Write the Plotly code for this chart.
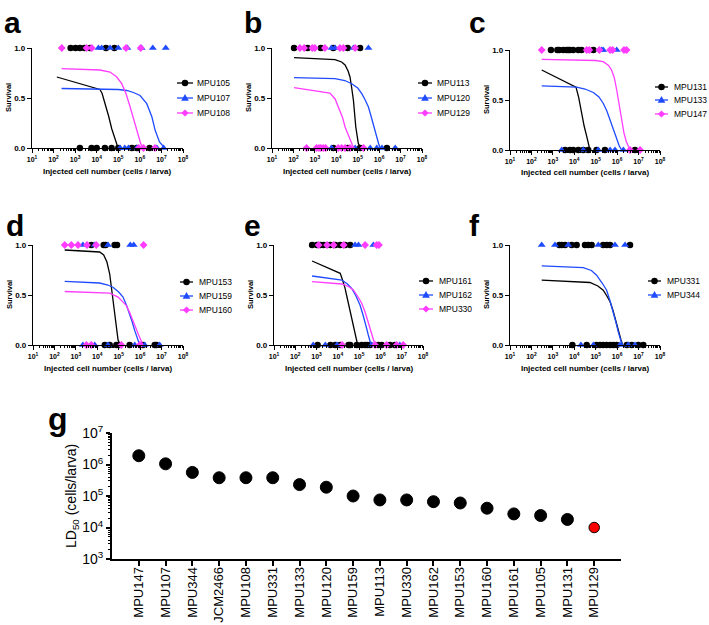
import plotly.graph_objects as go

W, H = 709, 625
FONT = "Liberation Sans, Arial, Helvetica, sans-serif"
BLACK = "#000000"
BLUE = "#1F4BFF"
MAGENTA = "#FF3CFF"

# ---------------- DATA (log10 injected cells / larva) ----------------
# Panel a
MPU105_alive = [2.79, 3.02, 3.22, 3.43, 3.69, 4.43, 4.82]
MPU105_dead = [3.22, 3.76, 4.00, 4.38, 4.69, 5.00, 5.63, 5.86, 6.45]
MPU105_fit_x = [2.15, 4.15, 4.25, 4.40, 4.55, 4.70, 4.85, 4.95, 5.05]
MPU105_fit_y = [0.71, 0.585, 0.545, 0.44, 0.32, 0.19, 0.075, 0.025, 0.0]

MPU107_alive = [4.08, 4.23, 4.62, 5.00, 5.42, 6.08, 6.60, 7.20]
MPU107_dead = [5.08, 5.30, 5.47, 5.86, 6.79, 7.10]
MPU107_fit_x = [2.37, 4.50, 5.00, 5.39, 5.70, 6.01, 6.32, 6.56, 6.71, 6.91, 7.10, 7.15]
MPU107_fit_y = [0.595, 0.59, 0.585, 0.575, 0.555, 0.525, 0.443, 0.31, 0.177, 0.06, 0.01, 0.0]

MPU108_alive = [2.38, 3.53, 3.77, 5.36, 6.04]
MPU108_dead = [5.95, 6.17, 6.70]
MPU108_fit_x = [2.37, 4.15, 4.62, 4.93, 5.16, 5.36, 5.55, 5.73, 5.89, 6.04, 6.17]
MPU108_fit_y = [0.793, 0.78, 0.76, 0.71, 0.643, 0.543, 0.41, 0.277, 0.143, 0.043, 0.0]

# Panel b
MPU113_alive = [2.03, 2.66, 3.28, 3.86, 4.53, 5.11]
MPU113_dead = [3.86, 4.53, 5.11, 6.36]
MPU113_fit_x = [2.03, 3.94, 4.25, 4.41, 4.55, 4.64, 4.72, 4.80, 4.91, 5.03, 5.16]
MPU113_fit_y = [0.903, 0.883, 0.86, 0.83, 0.77, 0.71, 0.60, 0.477, 0.21, 0.043, 0.0]

MPU120_alive = [3.78, 3.94, 4.80, 5.50]
MPU120_dead = [3.78, 4.88, 5.58, 5.89, 6.13, 6.75]
MPU120_fit_x = [2.03, 3.94, 4.40, 4.72, 5.00, 5.19, 5.35, 5.50, 5.62, 5.73, 5.89, 5.98, 6.05]
MPU120_fit_y = [0.703, 0.693, 0.675, 0.643, 0.60, 0.543, 0.48, 0.41, 0.32, 0.243, 0.11, 0.04, 0.0]

MPU129_alive = [2.30, 2.50, 2.88, 3.00, 3.47, 4.17, 4.33, 4.88]
MPU129_dead = [2.61, 3.08, 3.19, 3.28, 3.39, 3.50, 4.09, 4.25, 4.41, 4.64, 5.27]
MPU129_fit_x = [2.03, 3.70, 3.94, 4.17, 4.30, 4.41, 4.53, 4.64, 4.75, 4.84]
MPU129_fit_y = [0.603, 0.55, 0.493, 0.377, 0.30, 0.21, 0.14, 0.077, 0.03, 0.0]

# Panel c
MPU131_alive = [2.91, 3.21, 3.30, 3.49, 3.64, 3.72, 3.80, 3.95, 4.19, 4.34, 4.89]
MPU131_dead = [3.57, 3.80, 3.95, 4.19, 4.42, 4.65, 5.04, 5.43, 6.83]
MPU131_fit_x = [2.48, 4.08, 4.20, 4.34, 4.46, 4.58, 4.66, 4.73]
MPU131_fit_y = [0.80, 0.628, 0.53, 0.369, 0.24, 0.136, 0.06, 0.0]

MPU133_alive = [5.28, 5.35, 5.98]
MPU133_dead = [3.41, 4.42, 5.12, 5.67, 5.90, 6.29]
MPU133_fit_x = [2.48, 4.11, 4.50, 4.89, 5.15, 5.35, 5.52, 5.67, 5.83, 5.98, 6.10, 6.21]
MPU133_fit_y = [0.641, 0.628, 0.61, 0.575, 0.53, 0.468, 0.39, 0.302, 0.20, 0.103, 0.04, 0.0]

MPU147_alive = [2.48, 4.58, 4.70, 5.17, 5.67, 5.79, 6.32, 6.44]
MPU147_dead = [6.60, 7.07]
MPU147_fit_x = [2.48, 5.00, 5.35, 5.60, 5.74, 5.87, 5.98, 6.06, 6.13, 6.23, 6.32, 6.42, 6.52, 6.63]
MPU147_fit_y = [0.907, 0.895, 0.884, 0.845, 0.80, 0.72, 0.60, 0.50, 0.40, 0.28, 0.169, 0.09, 0.037, 0.0]

# Panel d
MPU153_alive = [3.72, 4.30, 4.39, 4.81, 4.92]
MPU153_dead = [4.35, 4.58, 4.89, 5.00, 5.51, 6.13, 6.68, 6.76]
MPU153_fit_x = [2.48, 4.11, 4.30, 4.45, 4.58, 4.66, 4.73, 4.80, 4.86, 4.92, 4.97, 5.07]
MPU153_fit_y = [0.95, 0.93, 0.90, 0.83, 0.71, 0.58, 0.446, 0.33, 0.215, 0.12, 0.05, 0.0]

MPU159_alive = [3.33, 3.88, 4.50, 5.54, 5.70]
MPU159_dead = [3.33, 3.88, 4.50, 5.75, 6.21, 6.91]
MPU159_fit_x = [2.48, 4.11, 4.50, 4.73, 5.00, 5.20, 5.36, 5.51, 5.63, 5.74, 5.84, 5.90, 5.98]
MPU159_fit_y = [0.637, 0.62, 0.60, 0.578, 0.53, 0.479, 0.40, 0.314, 0.23, 0.149, 0.08, 0.05, 0.0]

MPU160_alive = [2.48, 2.79, 3.10, 3.52, 3.95, 6.16]
MPU160_dead = [3.49, 3.72, 5.12, 5.98]
MPU160_fit_x = [2.48, 4.58, 4.97, 5.20, 5.35, 5.52, 5.67, 5.80, 5.90, 6.02, 6.13]
MPU160_fit_y = [0.535, 0.518, 0.479, 0.43, 0.396, 0.32, 0.248, 0.17, 0.116, 0.05, 0.0]

# Panel e
MPU161_alive = [2.79, 3.02, 3.18, 3.33, 3.64, 3.88, 4.11, 4.34, 4.58]
MPU161_dead = [3.05, 3.65, 3.88, 4.11, 4.50, 4.58, 4.89, 5.12, 5.28, 5.39, 5.51, 5.90, 6.06, 6.45, 6.68]
MPU161_fit_x = [2.79, 4.11, 4.22, 4.34, 4.46, 4.58, 4.68, 4.78, 4.86, 4.93]
MPU161_fit_y = [0.84, 0.717, 0.65, 0.567, 0.45, 0.333, 0.23, 0.133, 0.06, 0.0]

MPU162_alive = [4.81, 4.97, 5.67]
MPU162_dead = [2.84, 3.41, 3.96, 5.59, 6.91]
MPU162_fit_x = [2.79, 4.19, 4.45, 4.65, 4.85, 5.04, 5.17, 5.28, 5.36, 5.43, 5.50, 5.56]
MPU162_fit_y = [0.69, 0.65, 0.61, 0.567, 0.49, 0.40, 0.31, 0.233, 0.16, 0.10, 0.05, 0.0]

MPU330_alive = [3.10, 3.49, 3.80, 4.27, 5.28, 5.82, 5.93]
MPU330_dead = [4.20, 5.75, 6.29, 6.76, 7.07]
MPU330_fit_x = [2.79, 4.19, 4.50, 4.73, 4.95, 5.12, 5.28, 5.43, 5.54, 5.63, 5.69, 5.74]
MPU330_fit_y = [0.633, 0.61, 0.585, 0.55, 0.48, 0.417, 0.33, 0.233, 0.15, 0.083, 0.04, 0.0]

# Panel f
MPU331_alive = [3.30, 3.41, 3.57, 3.88, 4.11, 4.50, 4.65, 4.81, 5.35, 5.51, 5.67, 6.60]
MPU331_dead = [3.91, 4.58, 5.04, 5.20, 5.35, 5.51, 5.67, 5.82, 5.98, 6.45, 6.68, 6.99, 7.22]
MPU331_fit_x = [2.48, 4.73, 5.10, 5.35, 5.52, 5.67, 5.80, 5.90, 6.00, 6.10, 6.18, 6.26]
MPU331_fit_y = [0.648, 0.625, 0.59, 0.548, 0.49, 0.432, 0.35, 0.266, 0.18, 0.10, 0.05, 0.0]

MPU344_alive = [2.48, 3.10, 3.72, 5.12, 5.90, 6.37]
MPU344_dead = [4.31, 4.89, 6.13, 6.52, 6.83]
MPU344_fit_x = [2.48, 4.42, 4.80, 5.04, 5.30, 5.51, 5.67, 5.82, 5.94, 6.05, 6.14, 6.21, 6.29]
MPU344_fit_y = [0.791, 0.774, 0.745, 0.698, 0.62, 0.548, 0.44, 0.332, 0.23, 0.133, 0.06, 0.017, 0.0]

# Panel g
g_strains = ["MPU147", "MPU107", "MPU344", "JCM2466", "MPU108", "MPU331", "MPU133",
             "MPU120", "MPU159", "MPU113", "MPU330", "MPU162", "MPU153", "MPU160",
             "MPU161", "MPU105", "MPU131", "MPU129"]
g_ld50 = [1.9e6, 1.05e6, 5.6e5, 3.8e5, 3.8e5, 3.8e5, 2.3e5, 1.9e5, 1.0e5, 7.5e4,
          7.5e4, 6.6e4, 6.0e4, 4.1e4, 2.7e4, 2.4e4, 1.8e4, 1.0e4]
g_highlight = "MPU129"

# axis tick decades
x_decades = [1, 2, 3, 4, 5, 6, 7, 8]
g_decades = [3, 4, 5, 6, 7]

# ---------------- STYLE ----------------
STYLES = [
    dict(color=BLACK, symbol="circle", size=6.5),
    dict(color=BLUE, symbol="triangle-up", size=7),
    dict(color=MAGENTA, symbol="diamond", size=6),
]

panels = [
    dict(letter="a", xpx=(32, 183), ypx=(48, 148), leg=(177, 193, 195, [83, 98, 113]),
         strains=[("MPU105", MPU105_alive, MPU105_dead, MPU105_fit_x, MPU105_fit_y),
                  ("MPU107", MPU107_alive, MPU107_dead, MPU107_fit_x, MPU107_fit_y),
                  ("MPU108", MPU108_alive, MPU108_dead, MPU108_fit_x, MPU108_fit_y)]),
    dict(letter="b", xpx=(272, 422), ypx=(48, 148), leg=(418, 432, 435, [83, 98, 113]),
         strains=[("MPU113", MPU113_alive, MPU113_dead, MPU113_fit_x, MPU113_fit_y),
                  ("MPU120", MPU120_alive, MPU120_dead, MPU120_fit_x, MPU120_fit_y),
                  ("MPU129", MPU129_alive, MPU129_dead, MPU129_fit_x, MPU129_fit_y)]),
    dict(letter="c", xpx=(510, 660), ypx=(50, 150), leg=(655, 668, 672, [87, 100, 114]),
         strains=[("MPU131", MPU131_alive, MPU131_dead, MPU131_fit_x, MPU131_fit_y),
                  ("MPU133", MPU133_alive, MPU133_dead, MPU133_fit_x, MPU133_fit_y),
                  ("MPU147", MPU147_alive, MPU147_dead, MPU147_fit_x, MPU147_fit_y)]),
    dict(letter="d", xpx=(33, 183), ypx=(245, 345), leg=(180, 193, 197, [282, 296, 310]),
         strains=[("MPU153", MPU153_alive, MPU153_dead, MPU153_fit_x, MPU153_fit_y),
                  ("MPU159", MPU159_alive, MPU159_dead, MPU159_fit_x, MPU159_fit_y),
                  ("MPU160", MPU160_alive, MPU160_dead, MPU160_fit_x, MPU160_fit_y)]),
    dict(letter="e", xpx=(274, 423), ypx=(245, 345), leg=(419, 433, 437, [281, 295, 309]),
         strains=[("MPU161", MPU161_alive, MPU161_dead, MPU161_fit_x, MPU161_fit_y),
                  ("MPU162", MPU162_alive, MPU162_dead, MPU162_fit_x, MPU162_fit_y),
                  ("MPU330", MPU330_alive, MPU330_dead, MPU330_fit_x, MPU330_fit_y)]),
    dict(letter="f", xpx=(510, 660), ypx=(245, 345), leg=(648, 661, 665, [281, 295]),
         strains=[("MPU331", MPU331_alive, MPU331_dead, MPU331_fit_x, MPU331_fit_y),
                  ("MPU344", MPU344_alive, MPU344_dead, MPU344_fit_x, MPU344_fit_y)]),
]


def px(x):
    return x / W


def py(y):
    return 1 - y / H


def xd(p0, p1):
    return [px(p0), px(p1)]


def yd(p0, p1):
    return [py(p1), py(p0)]


fig = go.Figure()
layout = dict(
    width=W, height=H, margin=dict(l=0, r=0, t=0, b=0, autoexpand=False),
    paper_bgcolor="white", plot_bgcolor="white",
    font=dict(family=FONT, color="black"),
    showlegend=False,
)
annotations = []
shapes = []


def ann(text, x, y, size, bold=False, angle=0, xanchor="center", yanchor="middle"):
    annotations.append(dict(
        text=text, x=px(x), y=py(y), xref="paper", yref="paper",
        showarrow=False, textangle=angle, xanchor=xanchor, yanchor=yanchor,
        font=dict(family=FONT, size=size, color="black", weight="bold" if bold else "normal"),
    ))


def legend_entry(x0, x1, tx, y, name, st):
    cx = (x0 + x1) / 2
    shapes.append(dict(type="line", xref="paper", yref="paper", x0=px(x0), x1=px(x1),
                       y0=py(y), y1=py(y), line=dict(color=st["color"], width=1.3)))
    s = st["size"]
    if st["symbol"] == "circle":
        r = s / 2
        shapes.append(dict(type="circle", xref="paper", yref="paper",
                           x0=px(cx - r), x1=px(cx + r), y0=py(y + r), y1=py(y - r),
                           fillcolor=st["color"], line=dict(width=0)))
    else:
        if st["symbol"] == "triangle-up":
            pts = [(cx, y - s * 0.58), (cx + s * 0.55, y + s * 0.38), (cx - s * 0.55, y + s * 0.38)]
        else:
            pts = [(cx, y - s * 0.6), (cx + s * 0.6, y), (cx, y + s * 0.6), (cx - s * 0.6, y)]
        path = "M " + " L ".join(f"{px(a):.5f},{py(b):.5f}" for a, b in pts) + " Z"
        shapes.append(dict(type="path", xref="paper", yref="paper", path=path,
                           fillcolor=st["color"], line=dict(width=0)))
    ann(name, tx, y, 8.5, xanchor="left")


minor_vals = [m * 10 ** k for k in x_decades[:-1] for m in range(2, 10)]

for i, p in enumerate(panels):
    n = i + 1
    sfx = "" if n == 1 else str(n)
    xname, yname = "x" + sfx, "y" + sfx
    layout["xaxis" + sfx] = dict(
        domain=xd(*p["xpx"]), anchor=yname, type="log", range=[1, 8],
        tickmode="array", tickvals=[10 ** k for k in x_decades],
        ticktext=[f"10<sup>{k}</sup>" for k in x_decades],
        showline=True, linecolor="black", linewidth=1.3,
        ticks="outside", ticklen=4, tickwidth=1.1, tickcolor="black",
        tickfont=dict(family=FONT, size=7, color="black", weight="bold"),
        minor=dict(ticks="outside", ticklen=2.2, tickwidth=0.7, tickcolor="black",
                   tickmode="array", tickvals=minor_vals, showgrid=False),
        showgrid=False, zeroline=False, fixedrange=True, automargin=False,
    )
    layout["yaxis" + sfx] = dict(
        domain=yd(*p["ypx"]), anchor=xname, range=[0, 1],
        tickvals=[0, 0.5, 1.0], tickformat=".1f",
        showline=True, linecolor="black", linewidth=1.3,
        ticks="outside", ticklen=4, tickwidth=1.1, tickcolor="black",
        tickfont=dict(family=FONT, size=8, color="black", weight="bold"),
        showgrid=False, zeroline=False, fixedrange=True, automargin=False,
    )
    lx0, lx1, ltx, lys = p["leg"]
    for k, (name, alive, dead, fx, fy) in enumerate(p["strains"]):
        st = STYLES[k]
        # fitted curve
        fig.add_trace(go.Scatter(
            x=[10 ** v for v in fx], y=fy, mode="lines",
            line=dict(color=st["color"], width=1.3), xaxis=xname, yaxis=yname,
            showlegend=False, hoverinfo="skip", cliponaxis=False,
        ))
        # observed outcomes: 1 = survived, 0 = died
        fig.add_trace(go.Scatter(
            x=[10 ** v for v in alive] + [10 ** v for v in dead],
            y=[1] * len(alive) + [0] * len(dead),
            mode="markers",
            marker=dict(color=st["color"], symbol=st["symbol"], size=st["size"],
                        opacity=1, line=dict(width=0)),
            xaxis=xname, yaxis=yname, showlegend=False, cliponaxis=False, name=name,
        ))
        legend_entry(lx0, lx1, ltx, lys[k], name, st)
    cx = (p["xpx"][0] + p["xpx"][1]) / 2
    ann("Injected cell number (cells / larva)", cx, p["ypx"][1] + 23, 8, bold=True)
    ann("Survival", p["xpx"][0] - 24, (p["ypx"][0] + p["ypx"][1]) / 2, 7.5, bold=True, angle=-90)

# panel letters
ann("a", 2, 22, 30, bold=True, xanchor="left")
ann("b", 242, 22, 30, bold=True, xanchor="left")
ann("c", 467, 22, 30, bold=True, xanchor="left")
ann("d", 4, 226, 30, bold=True, xanchor="left")
ann("e", 242, 226, 30, bold=True, xanchor="left")
ann("f", 467, 226, 30, bold=True, xanchor="left")
ann("g", 46, 419, 32, bold=True, xanchor="left")

# Panel g
layout["xaxis7"] = dict(
    domain=xd(112, 621), anchor="y7", type="category",
    categoryorder="array", categoryarray=g_strains, range=[-1, 18],
    showline=True, linecolor="black", linewidth=1.8,
    ticks="outside", ticklen=5, tickwidth=1.5, tickcolor="black", tickangle=-90,
    ticklabelstandoff=-4,
    tickfont=dict(family=FONT, size=13, color="black"),
    showgrid=False, zeroline=False, fixedrange=True, automargin=False,
)
layout["yaxis7"] = dict(
    domain=yd(433, 559), anchor="x7", type="log", range=[3, 7],
    tickmode="array", tickvals=[10 ** k for k in g_decades],
    ticktext=[f"10<sup>{k}</sup>" for k in g_decades],
    showline=True, linecolor="black", linewidth=1.8,
    ticks="outside", ticklen=4, tickwidth=1.5, tickcolor="black",
    tickfont=dict(family=FONT, size=14, color="black"),
    minor=dict(ticks="outside", ticklen=2.5, tickwidth=0.8, tickcolor="black",
               tickmode="array", tickvals=[m * 10 ** k for k in g_decades[:-1] for m in range(2, 10)]),
    showgrid=False, zeroline=False, fixedrange=True, automargin=False,
)
g_colors = ["red" if s == g_highlight else "black" for s in g_strains]
g_sizes = [10.5 if s == g_highlight else 12 for s in g_strains]
fig.add_trace(go.Scatter(
    x=g_strains, y=g_ld50, mode="markers", xaxis="x7", yaxis="y7",
    marker=dict(color=g_colors, size=g_sizes, opacity=1, line=dict(color="black", width=1)),
    showlegend=False, cliponaxis=False,
))
ann("LD<sub>50</sub> (cells/larva)", 72, 496, 14, angle=-90)

layout["annotations"] = annotations
layout["shapes"] = shapes
fig.update_layout(**layout)
fig.write_html(
    "out.html",
    config={"displayModeBar": False},
    post_script="document.body.style.margin='0px';document.body.style.padding='0px';",
)
